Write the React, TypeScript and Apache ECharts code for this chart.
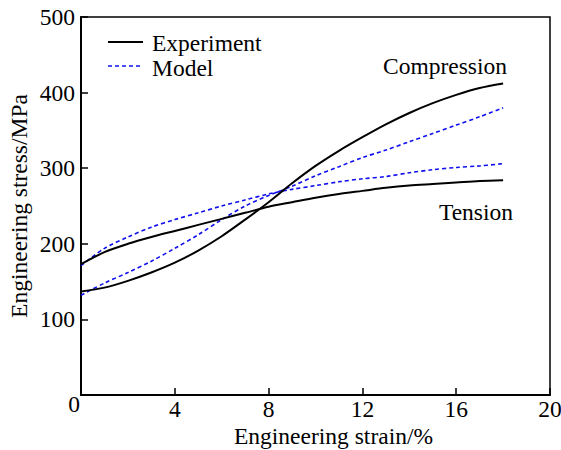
import React, { useEffect, useRef } from "react";
import * as echarts from "echarts";

const strain = [0, 1, 2, 3, 4, 5, 6, 7, 8, 9, 10, 11, 12, 13, 14, 15, 16, 17, 18];
const compressionExp = [137, 142, 151, 162, 175, 191, 210, 232, 255, 280, 303, 323, 341, 358, 373, 386, 397, 406, 412];
const tensionExp = [173, 189, 200, 209, 217, 225, 233, 241, 249, 255, 261, 266, 270, 274, 277, 279, 281, 283, 284];
const tensionModel = [171, 194, 209, 222, 232, 241, 250, 258, 266, 272, 277, 282, 286, 289, 294, 298, 301, 303, 306];
const compressionModel = [132, 148, 162, 177, 194, 212, 232, 250, 264, 276, 290, 302, 314, 324, 335, 346, 357, 368, 380];

const xTicks = [0, 4, 8, 12, 16, 20];
const yTicks = [0, 100, 200, 300, 400, 500];

const FONT = "'Times New Roman', 'Liberation Serif', 'DejaVu Serif', serif";
const FS = 23.5;

const pairs = (ys: number[]) => strain.map((x, i) => [x, ys[i]]);

export default function App() {
  const ref = useRef<HTMLDivElement>(null);
  useEffect(() => {
    if (!ref.current) return;
    const chart = echarts.init(ref.current, undefined, { renderer: "svg" });
    const expStyle = { color: "#000", width: 2, type: "solid" as const };
    const modStyle = { color: "#1010ee", width: 1.6, type: [4, 3] as any };
    const txt = (text: string, x: number, y: number, align = "left") => ({
      type: "text",
      x,
      y,
      style: { text, fontFamily: FONT, fontSize: FS, fill: "#000", align, verticalAlign: "middle" },
    });
    chart.setOption({
      animation: false,
      backgroundColor: "#fff",
      textStyle: { fontFamily: FONT },
      grid: {
        left: 81, right: 11, top: 17, bottom: 55,
        show: true, borderColor: "#000", borderWidth: 1.5,
        outerBoundsMode: "none", containLabel: false,
      },
      xAxis: {
        type: "value",
        min: xTicks[0],
        max: xTicks[xTicks.length - 1],
        interval: 4,
        name: "Engineering strain/%",
        nameLocation: "middle",
        nameGap: 31,
        nameMoveOverlap: false,
        nameTextStyle: { fontFamily: FONT, fontSize: FS, lineHeight: 20, color: "#000", padding: [0, 0, 0, 36] },
        axisLine: { lineStyle: { color: "#000", width: 2 } },
        axisTick: { inside: true, length: 7, lineStyle: { color: "#000", width: 1.5 } },
        axisLabel: { fontFamily: FONT, fontSize: FS, lineHeight: 20, color: "#000", margin: 4, showMinLabel: false },
        splitLine: { show: false },
      },
      yAxis: {
        type: "value",
        min: yTicks[0],
        max: yTicks[yTicks.length - 1],
        interval: 100,
        name: "Engineering stress/MPa",
        nameLocation: "middle",
        nameGap: 50,
        nameMoveOverlap: false,
        nameTextStyle: { fontFamily: FONT, fontSize: FS, color: "#000" },
        axisLine: { lineStyle: { color: "#000", width: 2 } },
        axisTick: { inside: true, length: 7, lineStyle: { color: "#000", width: 1.5 } },
        axisLabel: { fontFamily: FONT, fontSize: FS, color: "#000", margin: 6, showMinLabel: false },
        splitLine: { show: false },
      },
      series: [
        { name: "Experiment", type: "line", data: pairs(compressionExp), smooth: 0.3, symbol: "none", lineStyle: expStyle, z: 3 },
        { name: "Experiment", type: "line", data: pairs(tensionExp), smooth: 0.3, symbol: "none", lineStyle: expStyle, z: 3 },
        { name: "Model", type: "line", data: pairs(compressionModel), smooth: 0.3, symbol: "none", lineStyle: modStyle, z: 2 },
        { name: "Model", type: "line", data: pairs(tensionModel), smooth: 0.3, symbol: "none", lineStyle: modStyle, z: 2 },
      ],
      graphic: [
        { type: "line", shape: { x1: 108, y1: 42, x2: 143, y2: 42 }, style: { stroke: "#000", lineWidth: 2 } },
        txt("Experiment", 152, 43),
        { type: "line", shape: { x1: 108, y1: 66, x2: 143, y2: 66 }, style: { stroke: "#1010ee", lineWidth: 1.6, lineDash: [4, 3] } },
        txt("Model", 152, 68),
        txt("Compression", 445, 66, "center"),
        txt("Tension", 476, 212, "center"),
        txt("0", 74, 404, "center"),
      ],
    });
    return () => chart.dispose();
  }, []);
  return <div ref={ref} style={{ width: 561, height: 450, position: "absolute", left: 0, top: 0 }} />;
}
